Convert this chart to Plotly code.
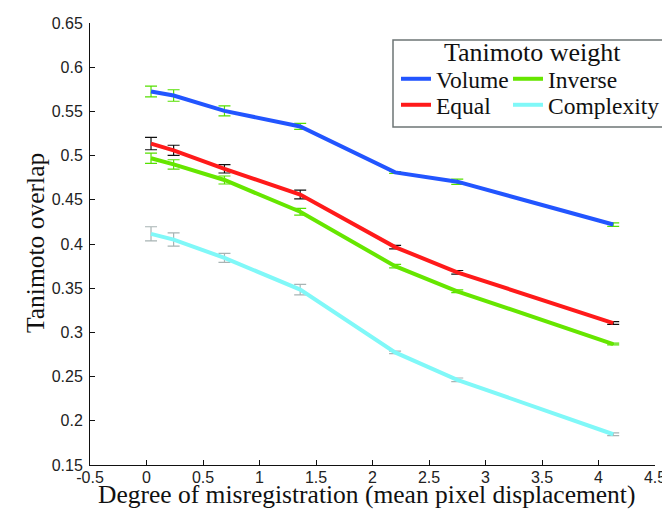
import plotly.graph_objects as go

# ---- data ----
x_disp = [0.04, 0.24, 0.69, 1.36, 2.2, 2.75, 4.13]

volume = [0.5725, 0.568, 0.5506, 0.533, 0.481, 0.4705, 0.422]
volume_err = [0.006, 0.0065, 0.0057, 0.0034, 0.001, 0.003, 0.002]

equal = [0.5136, 0.506, 0.485, 0.456, 0.3965, 0.368, 0.3106]
equal_err = [0.007, 0.0057, 0.0047, 0.005, 0.002, 0.002, 0.0015]

inverse = [0.497, 0.490, 0.4724, 0.4365, 0.3749, 0.3465, 0.2868]
inverse_err = [0.0057, 0.0053, 0.0045, 0.0038, 0.002, 0.0015, 0.001]

complexity = [0.4115, 0.405, 0.3843, 0.3484, 0.2774, 0.2464, 0.1848]
complexity_err = [0.008, 0.0075, 0.005, 0.006, 0.0015, 0.002, 0.0015]

x_tickvals = [-0.5, 0, 0.5, 1, 1.5, 2, 2.5, 3, 3.5, 4, 4.5]
x_ticktext = ["-0.5", "0", "0.5", "1", "1.5", "2", "2.5", "3", "3.5", "4", "4.5"]
y_tickvals = [0.15, 0.2, 0.25, 0.3, 0.35, 0.4, 0.45, 0.5, 0.55, 0.6, 0.65]
y_ticktext = ["0.15", "0.2", "0.25", "0.3", "0.35", "0.4", "0.45", "0.5", "0.55", "0.6", "0.65"]

x_title = "Degree of misregistration (mean pixel displacement)"
y_title = "Tanimoto overlap"
legend_title = "Tanimoto weight"

series = [
    ("Volume", volume, volume_err, "#2255ff", "#55e000", "legend"),
    ("Inverse", inverse, inverse_err, "#66e600", "#55e000", "legend2"),
    ("Equal", equal, equal_err, "#ff1a1a", "#111111", "legend3"),
    ("Complexity", complexity, complexity_err, "#80f8f8", "#a8b4b4", "legend4"),
]

SERIF = "Liberation Serif, Times New Roman, serif"
SANS = "Liberation Sans, Arial, sans-serif"

fig = go.Figure()
for name, vals, errs, col, ecol, lg in series:
    fig.add_trace(go.Scatter(
        x=x_disp, y=vals, name=name, mode="lines",
        line=dict(color=col, width=4),
        error_y=dict(type="data", array=errs, visible=True, color=ecol,
                     thickness=1.2, width=6),
        legend=lg,
    ))

W, H = 670, 512
ml, mr, mt, mb = 82, 23, 15, 55
pw = W - ml - mr
ph = H - mt - mb

def px_x(p):
    return (p - ml) / pw

def px_y(p):
    return (H - mb - p) / ph

leg_common = dict(font=dict(family=SERIF, size=23.5, color="#111111"),
                  bgcolor="rgba(0,0,0,0)", borderwidth=0,
                  xanchor="left", yanchor="middle", itemwidth=30)

fig.update_layout(
    width=W, height=H,
    margin=dict(l=ml, r=mr, t=mt, b=mb, autoexpand=False),
    paper_bgcolor="white", plot_bgcolor="white",
    showlegend=True,
    legend=dict(x=px_x(388), y=px_y(71), **leg_common),
    legend2=dict(x=px_x(500), y=px_y(71), **leg_common),
    legend3=dict(x=px_x(388), y=px_y(97), **leg_common),
    legend4=dict(x=px_x(500), y=px_y(97), **leg_common),
    xaxis=dict(range=[-0.5, 4.5], tickvals=x_tickvals, ticktext=x_ticktext,
               showgrid=False, zeroline=False, showline=True, linecolor="#111111",
               linewidth=1, ticks="inside", ticklen=5, tickcolor="#111111",
               ticklabelstandoff=-2,
               tickfont=dict(family=SANS, size=16, color="#222222")),
    yaxis=dict(range=[0.15, 0.65], tickvals=y_tickvals, ticktext=y_ticktext,
               showgrid=False, zeroline=False, showline=True, linecolor="#111111",
               linewidth=1, ticks="inside", ticklen=5, tickcolor="#111111",
               ticklabelstandoff=3,
               tickfont=dict(family=SANS, size=16, color="#222222")),
    shapes=[dict(type="rect", xref="paper", yref="paper",
                 x0=px_x(385), x1=px_x(658), y0=px_y(119), y1=px_y(32),
                 line=dict(color="#6e7575", width=1.5), fillcolor="white",
                 layer="below")],
    annotations=[
        dict(text=legend_title, xref="paper", yref="paper",
             x=px_x(524), y=px_y(44), xanchor="center", yanchor="middle",
             showarrow=False, font=dict(family=SERIF, size=26, color="#111111")),
        dict(text=x_title, xref="paper", yref="paper",
             x=px_x(358), y=px_y(486.5), xanchor="center", yanchor="middle",
             showarrow=False, font=dict(family=SERIF, size=25.5, color="#111111")),
        dict(text=y_title, xref="paper", yref="paper", textangle=-90,
             x=px_x(27), y=px_y(235), xanchor="center", yanchor="middle",
             showarrow=False, font=dict(family=SERIF, size=25.5, color="#111111")),
    ],
)

fig.write_html("out.html")
